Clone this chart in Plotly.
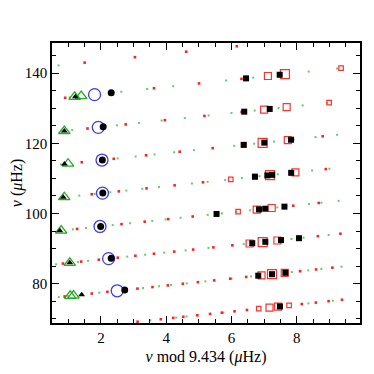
import numpy as np
import plotly.graph_objects as go

DNU = 9.434

# Frequencies (muHz)
l0_model = [133.88, 124.56, 115.24, 105.82, 96.31, 87.14, 77.97]
l0_obs = [134.39, 124.71, 115.25, 105.83, 96.33, 87.22, 78.20]
l2_model = [133.27, 133.47, 123.52, 114.20, 104.65, 95.12, 85.95, 76.53, 76.63]
l2_obs = [133.29, 123.52, 114.09, 104.62, 95.08, 85.95, 76.88]
l1_model_large = [139.71, 120.16, 110.95, 91.86, 82.71]
l1_model_medium = [139.19, 129.64, 130.33, 120.93, 111.73, 101.11, 101.57,
                   91.46, 92.31, 82.39, 83.10, 73.20, 73.46]
l1_model_small = [141.43, 131.63, 119.58, 110.49, 109.75, 100.54, 72.87, 73.80]
l1_obs = [138.52, 139.55, 129.03, 129.81, 119.58, 120.21, 121.03,
          110.49, 110.87, 111.02, 111.60, 99.88, 101.18, 101.37, 101.96,
          91.54, 91.94, 92.42, 92.97, 82.29, 82.71, 83.12, 73.52]
red_dots = [143.01, 144.55, 146.12, 147.67,
            132.98, 135.70, 137.08, 138.38,
            124.23, 125.40, 126.60, 127.81, 128.95,
            114.62, 115.60, 116.59, 117.62, 118.63, 122.00,
            105.49, 106.32, 107.17, 108.03, 108.90, 112.66,
            95.61, 96.97, 97.68, 98.40, 99.15, 102.23, 103.01,
            85.74, 86.30, 86.84, 87.42, 87.96, 88.53, 89.15, 89.73, 90.35, 90.93, 93.55, 94.24,
            76.36, 77.19, 77.67, 78.59, 79.05, 79.52, 79.98, 80.44, 80.94, 81.43, 81.92, 83.57, 84.06, 84.56,
            69.16, 69.87, 70.25, 70.56, 70.99, 71.38, 71.74, 72.13, 72.51, 74.19, 74.62, 75.01, 75.42]
green_dots = [142.21,
              133.12, 134.70, 135.49, 136.29, 137.91, 138.74, 140.44, 141.31,
              123.76, 125.13, 125.81, 126.50, 127.21, 127.94, 128.64, 129.35, 130.08, 130.82, 131.57,
              113.98, 115.72, 116.27, 116.85, 117.45, 118.06, 119.29, 119.90, 120.51, 121.11, 121.78, 122.44,
              105.11, 105.58, 106.06, 106.55, 107.04, 107.55, 108.56, 109.04, 109.58, 110.09, 110.63, 111.19, 112.24, 112.77,
              95.48, 95.88, 96.70, 97.23, 97.91, 98.32, 98.78, 99.61, 100.04, 100.49, 100.91, 101.74, 102.71, 103.09, 103.62,
              85.53, 86.20, 86.51, 87.71, 88.26, 88.84, 89.50, 90.20, 91.28, 92.74, 93.11, 93.88,
              76.18, 76.47, 77.42, 78.76, 79.25, 79.62, 80.10, 80.67, 81.47, 82.07, 83.32, 83.82, 84.22, 84.84,
              69.55, 70.34, 70.66, 71.79, 74.39, 75.14]

fig = go.Figure()


def add(freqs, symbol, size, color, lw=1.2):
    f = np.array(freqs)
    fig.add_trace(go.Scatter(
        x=np.mod(f, DNU), y=f, mode="markers", showlegend=False,
        marker=dict(symbol=symbol, size=size, color=color,
                    line=dict(width=lw, color=color))))


add(green_dots, "square", 2, "#66cc66", 0)
add(red_dots, "square", 2.6, "#ff2020", 0)
add(l1_model_large, "square-open", 9, "#ff3030")
add(l1_model_medium, "square-open", 7, "#ff3030")
add(l1_model_small, "square-open", 4.5, "#ff3030")
add(l2_model, "triangle-up-open", 10, "#22aa22", 1.3)
add(l0_model, "circle-open", 12, "#3a3aff", 1.3)
add(l1_obs, "square", 6, "black", 0)
add(l2_obs, "triangle-up", 6, "black", 0)
add(l0_obs, "circle", 7, "black", 0)

axis_common = dict(
    showgrid=False, zeroline=False, showline=True, linecolor="black",
    linewidth=1.5, mirror="allticks", ticks="inside", ticklen=7,
    tickwidth=1, tickcolor="black", automargin=False,
    tickfont=dict(family="Liberation Serif", size=15, color="black"),
)

fig.update_xaxes(range=[0.5, 9.934], dtick=2, tick0=0,
                 minor=dict(dtick=0.5, ticks="inside", ticklen=4, tickcolor="black"),
                 title=dict(text="<i>ν</i> mod 9.434 (<i>μ</i>Hz)", standoff=6,
                            font=dict(family="Liberation Serif", size=16, color="black")),
                 **axis_common)
fig.update_yaxes(range=[68.8, 148.6], dtick=20, tick0=0,
                 minor=dict(dtick=5, ticks="inside", ticklen=4, tickcolor="black"),
                 title=dict(text="<i>ν</i> (<i>μ</i>Hz)", standoff=4,
                            font=dict(family="Liberation Serif", size=16, color="black")),
                 **axis_common)

fig.update_layout(width=374, height=374, plot_bgcolor="white", paper_bgcolor="white",
                  margin=dict(l=44, r=22, t=35, b=59))

fig.write_html("out.html")
